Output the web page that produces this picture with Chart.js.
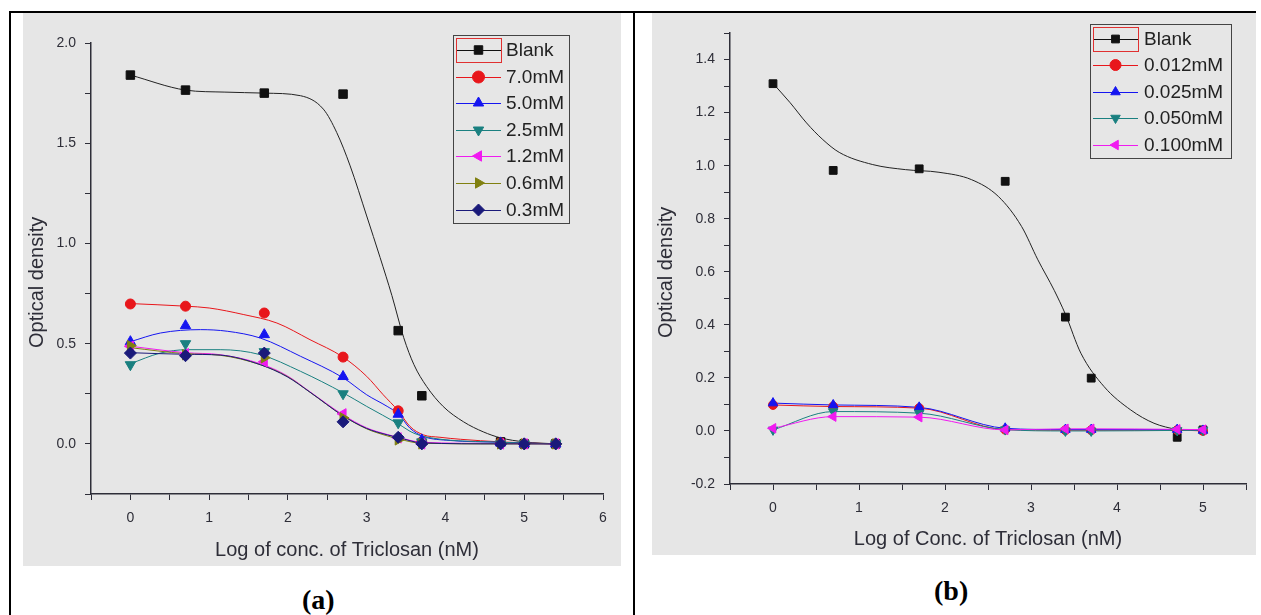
<!DOCTYPE html>
<html>
<head>
<meta charset="utf-8">
<script src="https://cdn.jsdelivr.net/npm/chart.js@4.4.1/dist/chart.umd.min.js"></script>
<style>
  html, body { margin: 0; padding: 0; background: #fff; }
  body { width: 1261px; height: 615px; position: relative; overflow: hidden; }
  .rule { position: absolute; background: #000; }
  canvas { position: absolute; background: #e6e6e6; }
  .cap { position: absolute; font-family: "Liberation Serif", "Times New Roman", serif; font-weight: bold; font-size: 28px; color: #000; }
</style>
</head>
<body>
<div class="rule" style="left:9px;top:11px;width:1247px;height:2px"></div>
<div class="rule" style="left:9px;top:11px;width:2px;height:604px"></div>
<div class="rule" style="left:633px;top:11px;width:2px;height:604px"></div>
<canvas id="chartA" width="598" height="553" style="left:23px;top:13px"></canvas>
<canvas id="chartB" width="604" height="542" style="left:652px;top:13px"></canvas>
<div class="cap" style="left:302px;top:584px">(a)</div>
<div class="cap" style="left:934px;top:575px">(b)</div>

<script>
// ---- panel (a) : measured points ----
const xA = [0, 0.7, 1.7, 2.7, 3.4, 3.7, 4.7, 5.0, 5.4];
const blankA = [1.84, 1.765, 1.75, 1.745, 0.565, 0.24, 0.01, 0.0, 0.0];
const mM70 = [0.698, 0.687, 0.653, 0.433, 0.165, 0.01, 0.005, 0.0, 0.0];
const mM50 = [0.51, 0.59, 0.545, 0.336, 0.148, 0.02, 0.005, 0.0, 0.0];
const mM25 = [0.395, 0.50, 0.46, 0.25, 0.105, 0.01, 0.0, 0.0, 0.0];
const mM12 = [0.487, 0.45, 0.41, 0.15, 0.03, 0.0, 0.0, 0.0, 0.0];
const mM06 = [0.49, 0.445, 0.43, 0.13, 0.02, 0.0, 0.0, 0.0, 0.0];
const mM03 = [0.453, 0.44, 0.453, 0.11, 0.033, 0.0, 0.0, 0.0, 0.0];

// ---- panel (a) : fitted curves ----
const fitBlankAX = [0, 0.7, 1.2, 1.7, 2.16, 2.45, 2.62, 2.79, 3.0, 3.17, 3.32, 3.47, 3.6, 3.76, 3.97, 4.23, 4.48, 4.7, 5.0, 5.4];
const fitBlankAY = [1.84, 1.765, 1.755, 1.75, 1.737, 1.67, 1.553, 1.387, 1.137, 0.93, 0.74, 0.53, 0.395, 0.287, 0.187, 0.11, 0.06, 0.03, 0.01, 0.0];
const fit70X = [0, 0.7, 1.0, 1.44, 1.86, 2.28, 2.7, 3.0, 3.21, 3.4, 3.55, 3.72, 3.93, 4.19, 4.7, 5.0, 5.4];
const fit70Y = [0.70, 0.687, 0.678, 0.645, 0.603, 0.52, 0.433, 0.337, 0.245, 0.165, 0.087, 0.045, 0.033, 0.023, 0.01, 0.005, 0.0];
const fit50X = [0, 0.38, 0.89, 1.23, 1.65, 2.16, 2.7, 3.0, 3.26, 3.4, 3.55, 3.72, 4.06, 4.7, 5.0, 5.4];
const fit50Y = [0.51, 0.553, 0.57, 0.562, 0.528, 0.437, 0.33, 0.245, 0.187, 0.15, 0.078, 0.037, 0.017, 0.008, 0.004, 0.0];
const fit25X = [0, 0.38, 0.72, 1.14, 1.65, 2.16, 2.7, 3.0, 3.4, 3.6, 3.85, 4.7, 5.0, 5.4];
const fit25Y = [0.40, 0.453, 0.47, 0.47, 0.445, 0.362, 0.255, 0.187, 0.10, 0.053, 0.028, 0.008, 0.004, 0.0];
const fitLowX = [0, 0.7, 1.14, 1.65, 1.99, 2.28, 2.7, 3.0, 3.26, 3.4, 3.7, 4.7, 5.4];
const fit12Y = [0.487, 0.455, 0.445, 0.40, 0.34, 0.26, 0.145, 0.08, 0.047, 0.033, 0.008, 0.002, 0.0];
const fit06Y = [0.48, 0.45, 0.442, 0.395, 0.337, 0.258, 0.14, 0.075, 0.04, 0.025, 0.003, 0.0, 0.0];
const fit03Y = [0.455, 0.447, 0.443, 0.395, 0.335, 0.258, 0.14, 0.077, 0.045, 0.032, 0.005, 0.0, 0.0];

// ---- panel (b) ----
const xB = [0, 0.7, 1.7, 2.7, 3.4, 3.7, 4.7, 5.0];
const blankB = [1.309, 0.982, 0.988, 0.941, 0.429, 0.199, -0.024, 0.004];
const b012 = [0.098, 0.092, 0.086, 0.005, 0.003, 0.003, 0.003, 0.0];
const b025 = [0.105, 0.098, 0.089, 0.01, 0.005, 0.005, 0.005, 0.002];
const b050 = [0.004, 0.073, 0.067, 0.005, 0.0, 0.0, 0.002, 0.003];
const b100 = [0.01, 0.054, 0.052, 0.004, 0.008, 0.008, 0.006, 0.005];
const fitBlankBX = [0, 0.2, 0.39, 0.58, 0.77, 1.16, 1.54, 1.93, 2.31, 2.62, 2.89, 3.08, 3.27, 3.4, 3.58, 3.85, 4.16, 4.43, 4.7];
const fitBlankBY = [1.31, 1.237, 1.161, 1.098, 1.05, 1.004, 0.985, 0.975, 0.947, 0.884, 0.771, 0.645, 0.53, 0.44, 0.293, 0.167, 0.079, 0.029, 0.004];

const labelsA = ['Blank', '7.0mM', '5.0mM', '2.5mM', '1.2mM', '0.6mM', '0.3mM'];
const labelsB = ['Blank', '0.012mM', '0.025mM', '0.050mM', '0.100mM'];

const INK = '#2e2e38';
const FONT = '"Liberation Sans", Arial, sans-serif';

// origin style markers
const styles = [
  { color: '#111111', style: 'rect', rot: 0, r: 6 },
  { color: '#e8161b', style: 'circle', rot: 0, r: 5 },
  { color: '#1515f0', style: 'triangle', rot: 0, r: 6 },
  { color: '#1a8080', style: 'triangle', rot: 180, r: 6 },
  { color: '#f01af0', style: 'triangle', rot: -90, r: 6 },
  { color: '#808010', style: 'triangle', rot: 90, r: 6 },
  { color: '#1a1a7a', style: 'rectRot', rot: 0, r: 6 }
];

function pairs(xs, ys) {
  return xs.map((x, i) => ({ x: x, y: ys[i] }));
}

function pointSet(label, xs, ys, i, r) {
  const s = styles[i];
  return {
    label: label, data: pairs(xs, ys), showLine: false, legend: true,
    pointStyle: s.style, rotation: s.rot, pointRadius: r || s.r,
    backgroundColor: s.color, borderColor: s.color, pointBorderWidth: 1,
    order: 50 - i
  };
}

function lineSet(xs, ys, i, w) {
  const s = styles[i];
  return {
    data: pairs(xs, ys), showLine: true, pointRadius: 0, borderColor: i === 0 ? '#222' : s.color,
    borderWidth: w || 1, cubicInterpolationMode: 'monotone', fill: false, order: 100 - i
  };
}

// legend in the Origin style: line through marker, red frame around the first entry
const legendBox = {
  id: 'legendBox',
  afterDatasetsDraw(chart, args, o) {
    const ctx = chart.ctx;
    const items = chart.data.datasets.filter(d => d.legend);
    ctx.save();
    ctx.strokeStyle = '#444';
    ctx.lineWidth = 1;
    ctx.strokeRect(o.x + 0.5, o.y + 0.5, o.w, o.h);
    ctx.font = o.font;
    ctx.textBaseline = 'middle';
    ctx.textAlign = 'left';
    items.forEach((d, i) => {
      const cy = Math.round(o.y + o.first + i * o.step);
      const x0 = o.x + o.lineStart;
      ctx.strokeStyle = d.borderColor;
      ctx.lineWidth = 1;
      ctx.beginPath();
      ctx.moveTo(x0, cy + 0.5);
      ctx.lineTo(x0 + o.lineLen, cy + 0.5);
      ctx.stroke();
      ctx.fillStyle = d.backgroundColor;
      Chart.helpers.drawPoint(ctx, { pointStyle: d.pointStyle, rotation: d.rotation, radius: o.markR, borderWidth: 1 }, x0 + o.lineLen / 2, cy);
      if (i === 0) {
        ctx.strokeStyle = '#e03030';
        ctx.strokeRect(x0 + 0.5, cy - 12 + 0.5, o.lineLen, 24);
      }
      ctx.fillStyle = '#222';
      ctx.fillText(d.label, o.x + o.textStart, cy + 1);
    });
    ctx.restore();
  }
};

function near(v, step) {
  return Math.abs(v / step - Math.round(v / step)) < 1e-6;
}

function axes(xMin, xMax, yMin, yMax, yStep, yLabelStep, yW, xH, xTitle) {
  return {
    x: {
      type: 'linear', min: xMin, max: xMax,
      afterFit: s => { s.height = xH; },
      border: { display: true, color: INK, width: 1.5 },
      grid: { drawOnChartArea: false, drawTicks: true, tickLength: 6, color: INK },
      ticks: {
        stepSize: 0.5, autoSkip: false, maxRotation: 0, padding: 10, color: INK,
        font: { family: FONT, size: 14 },
        callback: v => near(v, 1) ? String(Math.round(v)) : ''
      },
      title: { display: true, text: xTitle, color: INK, font: { family: FONT, size: 20 }, padding: { top: 0, bottom: 4 } }
    },
    y: {
      type: 'linear', min: yMin, max: yMax,
      afterFit: s => { s.width = yW; },
      border: { display: true, color: INK, width: 1.5 },
      grid: { drawOnChartArea: false, drawTicks: true, tickLength: 6, color: INK },
      ticks: {
        stepSize: yStep, autoSkip: false, padding: 9, color: INK,
        font: { family: FONT, size: 14 },
        callback: v => near(v, yLabelStep) ? (Math.abs(v) < 1e-9 ? 0 : v).toFixed(1) : ''
      },
      // trailing spaces push the rotated title a little below the axis middle, as in the original
      title: { display: true, text: 'Optical density     ', color: INK, font: { family: FONT, size: 20 }, padding: { top: 2, bottom: 0 } }
    }
  };
}

const chartA = new Chart(document.getElementById('chartA'), {
  type: 'scatter',
  data: {
    datasets: [
      lineSet(fitBlankAX, fitBlankAY, 0),
      lineSet(fit70X, fit70Y, 1),
      lineSet(fit50X, fit50Y, 2),
      lineSet(fit25X, fit25Y, 3),
      lineSet(fitLowX, fit12Y, 4),
      lineSet(fitLowX, fit06Y, 5),
      lineSet(fitLowX, fit03Y, 6),
      pointSet(labelsA[0], xA, blankA, 0),
      pointSet(labelsA[1], xA, mM70, 1),
      pointSet(labelsA[2], xA, mM50, 2),
      pointSet(labelsA[3], xA, mM25, 3),
      pointSet(labelsA[4], xA, mM12, 4),
      pointSet(labelsA[5], xA, mM06, 5),
      pointSet(labelsA[6], xA, mM03, 6)
    ]
  },
  options: {
    responsive: false, animation: false, devicePixelRatio: 1,
    layout: { padding: { top: 30, right: 18, left: 0, bottom: 0 } },
    plugins: {
      legend: { display: false }, tooltip: { enabled: false },
      legendBox: { x: 430, y: 22, w: 116, h: 188, first: 15, step: 26.6, lineStart: 3, lineLen: 45, textStart: 53, markR: 6, font: '19px ' + FONT }
    },
    scales: axes(-0.5, 6, -0.25, 2.0, 0.25, 0.5, 68, 72, 'Log of conc. of Triclosan (nM)')
  },
  plugins: [legendBox]
});

const chartB = new Chart(document.getElementById('chartB'), {
  type: 'scatter',
  data: {
    datasets: [
      lineSet(fitBlankBX, fitBlankBY, 0),
      lineSet(xB, b012, 1),
      lineSet(xB, b025, 2),
      lineSet(xB, b050, 3),
      lineSet(xB, b100, 4),
      pointSet(labelsB[0], xB, blankB, 0, 5.5),
      pointSet(labelsB[1], xB, b012, 1, 4.5),
      pointSet(labelsB[2], xB, b025, 2, 5.5),
      pointSet(labelsB[3], xB, b050, 3, 5.5),
      pointSet(labelsB[4], xB, b100, 4, 5.5)
    ]
  },
  options: {
    responsive: false, animation: false, devicePixelRatio: 1,
    layout: { padding: { top: 20, right: 6, left: 0, bottom: 0 } },
    plugins: {
      legend: { display: false }, tooltip: { enabled: false },
      legendBox: { x: 438, y: 11, w: 141, h: 134, first: 15, step: 26.4, lineStart: 3, lineLen: 45, textStart: 54, markR: 5.5, font: '19px ' + FONT }
    },
    scales: axes(-0.5, 5.5, -0.2, 1.5, 0.1, 0.2, 78, 71, 'Log of Conc. of Triclosan (nM)')
  },
  plugins: [legendBox]
});
</script>
</body>
</html>
